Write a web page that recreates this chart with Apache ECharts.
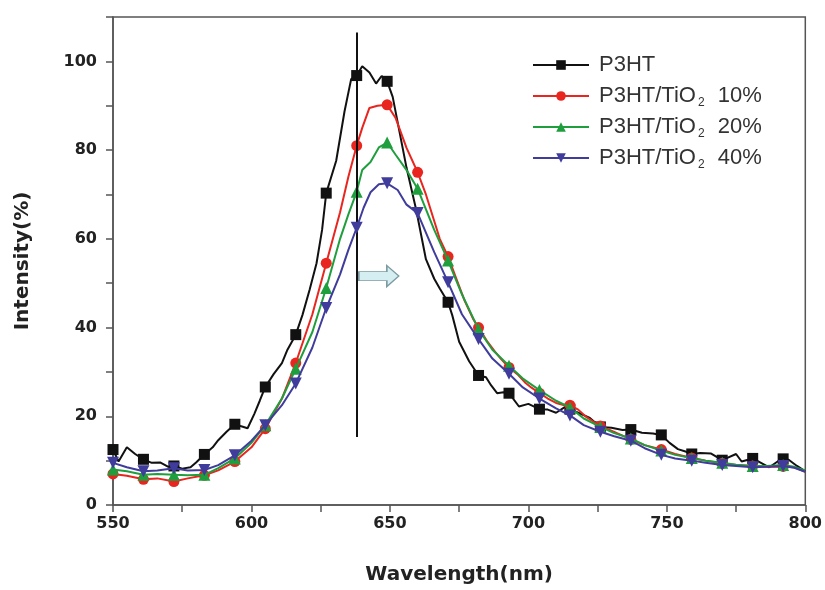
<!DOCTYPE html>
<html>
<head>
<meta charset="utf-8">
<script src="https://cdn.jsdelivr.net/npm/echarts@6/dist/echarts.min.js"></script>
<style>
html,body{margin:0;padding:0;background:#fff;}
#chart{width:825px;height:590px;}
</style>
</head>
<body>
<div id="chart"></div>
<script>
// Wavelengths (nm) where markers are drawn
const markerWl = [550,561,572,583,594,605,616,627,638,649,660,671,682,693,704,715,726,737,748,759,770,781,792];

// Series names
const seriesNames = ['P3HT', 'P3HT/TiO2 10%', 'P3HT/TiO2 20%', 'P3HT/TiO2 40%'];

// P3HT (black) [wavelength, intensity]
const p3ht = [
  [550,12.5],[552,9.8],[555,13],[558,11.5],[561,10.3],[564,9.5],[567,9.6],[570,8.6],[572,8.8],[575,8.2],[578,8.5],[580,9.6],
  [583,11.4],[586,13],[588,14.6],[591,16.5],[594,18.2],[596,17.8],[598.6,17.3],[601,20.5],[603,23.5],[605,26.6],[608,29.5],
  [611,32],[613,35],[616,38.4],[618.4,42.8],[621,48.5],[623.5,54.5],[625.5,62],[627,70.3],[630.6,77.6],[633.6,88.7],[636,96],
  [638,96.8],[640,98.9],[642.6,97.5],[645,95],[647,96.7],[649,95.5],[651,92],[653.5,84],[656,76],[659.5,66.5],[663,55.4],
  [666,51],[668,48.8],[671,45.7],[672.5,42.8],[675,36.8],[678.6,32.4],[682,29.2],[684.7,28.8],[686.5,27],[688.7,25.2],
  [691,25.4],[693,25.2],[696.6,22.2],[700,22.8],[704,21.6],[707,21.5],[710,20.8],[713,22],[715,21.6],[718,20.8],[722,19.7],
  [726,17.6],[730,17.4],[734,16.9],[737,17],[741,16.3],[745,16.1],[748,15.8],[751,14],[754,12.6],[757,12],[759,11.5],
  [762,11.7],[766,11.6],[770,10.1],[775,11.5],[777,9.8],[781,10.5],[784,9.5],[787,8.5],[790,9.8],[792,10.4],[794,10.2],
  [797,8.8],[800,7.6]
];

// P3HT/TiO2 10% (red)
const tio10 = [
  [550,7],[555,6.6],[561,5.8],[566,6],[572,5.3],[577,6],[583,6.7],[588,7.8],[594,9.8],[600,13],[605,17.2],[611,24],
  [616,32],[622,43],[627,54.5],[632,66],[635,74],[638,81],[640,85],[642.6,89.5],[645.5,90],[649,90.2],[652,87.3],
  [656,80.5],[660,75],[663,70],[666,64],[668,60],[671,56],[674,51],[677,46],[680,42],[682,40],[685,37],[688,34.5],
  [690,33],[693,31],[696,29.5],[699,27.5],[701,26.5],[704,25.2],[707,24],[710,23],[713,22.5],[715,22.5],[718,21.5],
  [721,19.8],[724,18.6],[726,17.8],[731,16.5],[737,14.8],[742,13.5],[748,12.5],[753,11.5],[759,10.6],[764,10],
  [770,9.4],[775,9],[781,8.8],[786,8.6],[792,8.7],[796,8.5],[800,7.5]
];

// P3HT/TiO2 20% (green)
const tio20 = [
  [550,8],[555,7.6],[561,6.8],[566,7],[572,6.8],[577,6.7],[583,6.8],[588,8.3],[594,10.5],[600,14],[605,18],[611,24],
  [616,30.7],[622,39],[627,48.9],[632,60],[635,65.5],[638,70.6],[640,75.5],[643,77.3],[646,80.6],[649,81.7],[652,79],
  [656,75.5],[660,71.3],[666,62],[671,55.1],[676,47.5],[682,39.6],[687,35],[693,31.4],[698,28.5],[704,25.9],[710,23.5],
  [715,22],[720,19.5],[726,17.6],[731,16.2],[737,15],[742,13.5],[748,12.3],[753,11.3],[759,10.6],[764,10],[770,9.5],
  [775,9.1],[781,8.8],[786,8.8],[792,9],[796,8.6],[800,7.8]
];

// P3HT/TiO2 40% (blue)
const tio40 = [
  [550,9.5],[555,8.5],[561,7.6],[566,7.8],[572,8.3],[577,7.8],[583,7.9],[588,9],[594,11.2],[600,14.5],[605,18],[611,22.5],
  [616,27.4],[622,35.5],[627,44.4],[632,52],[635,57.5],[638,62.5],[640.5,67],[643,70.5],[646,72.3],[649,72.5],[652.8,71],
  [656,67.7],[660,65.8],[666,57],[671,50.2],[676,43],[682,37.4],[687,33],[693,29.6],[698,26.5],[704,24],[710,21.8],
  [715,20.2],[720,18],[726,16.5],[731,15.5],[737,14.5],[742,12.8],[748,11.3],[753,10.5],[759,10],[764,9.5],[770,9],
  [775,8.8],[781,8.5],[786,8.6],[792,8.8],[796,8.4],[800,7.5]
];

// Vertical reference line: wavelength and intensity span
const refLineWl = 638;
const refLineSpan = [15.3, 106.5];
// Arrow annotation centre [wavelength, intensity]
const arrowAt = [646, 51.6];

// Axis ranges
const xRange = [550, 800];
const yRange = [0, 110];

const colors = ['#111111', '#e8261f', '#1f9e3e', '#3f3c9c'];
const symbols = ['rect', 'circle', 'triangle', 'path://M0,0 L10,0 L5,10 Z'];
const symbolSizes = [11, 11, 12, 12];
const datasets = [p3ht, tio10, tio20, tio40];

const markerSet = new Set(markerWl);
function buildData(arr) {
  return arr.map(function (p) {
    if (markerSet.has(p[0])) return p;
    return { value: p, symbol: 'none' };
  });
}

const series = datasets.map(function (arr, i) {
  const s = {
    name: seriesNames[i],
    type: 'line',
    data: buildData(arr),
    symbol: symbols[i],
    symbolSize: symbolSizes[i],
    showSymbol: true,
    showAllSymbol: true,
    lineStyle: { color: colors[i], width: 2 },
    itemStyle: { color: colors[i] },
    z: 2 + i,
    animation: false
  };
  if (i === 0) {
    s.markLine = {
      silent: true,
      symbol: 'none',
      label: { show: false },
      lineStyle: { color: '#111', width: 2, type: 'solid' },
      data: [[{ coord: [refLineWl, refLineSpan[0]] }, { coord: [refLineWl, refLineSpan[1]] }]],
      animation: false
    };
    s.markPoint = {
      silent: true,
      label: { show: false },
      data: [{
        coord: arrowAt,
        symbol: 'path://M0,6 L28,6 L28,0 L40,10.5 L28,21 L28,15 L0,15 Z',
        symbolSize: [40, 21],
        itemStyle: { color: '#d4eef2', borderColor: '#7c9ba0', borderWidth: 1.2 }
      }],
      animation: false
    };
  }
  return s;
});

const chart = echarts.init(document.getElementById('chart'), null, { renderer: 'canvas' });
chart.setOption({
  backgroundColor: '#ffffff',
  animation: false,
  grid: {
    left: 113, right: 18, top: 17, bottom: 77,
    show: true, borderColor: '#555', borderWidth: 1.5, backgroundColor: 'transparent'
  },
  legend: {
    orient: 'vertical',
    left: 527, top: 47,
    itemWidth: 56, itemHeight: 12,
    itemGap: 5,
    data: seriesNames,
    formatter: function (n) { return n.replace('TiO2', 'TiO{sub|2}'); },
    textStyle: {
      fontFamily: 'Liberation Sans, Arial, sans-serif',
      fontSize: 22, color: '#333', lineHeight: 26,
      padding: [0, 0, 0, 5],
      rich: {
        sub: { fontSize: 12, color: '#333', verticalAlign: 'bottom', lineHeight: 14, padding: [0, 7, 0, 2], fontFamily: 'Liberation Sans, Arial, sans-serif' }
      }
    }
  },
  xAxis: {
    type: 'value',
    min: xRange[0], max: xRange[1], interval: 25,
    name: 'Wavelength(nm)',
    nameLocation: 'middle', nameGap: 60,
    nameTextStyle: { fontFamily: 'DejaVu Sans', fontWeight: 'bold', fontSize: 20, color: '#222' },
    axisLine: { show: true, lineStyle: { color: '#555', width: 1.5 } },
    axisTick: { show: true, inside: false, length: 7, lineStyle: { color: '#555', width: 1.5 } },
    axisLabel: {
      margin: 11,
      fontFamily: 'DejaVu Sans', fontWeight: 'bold', fontSize: 16, color: '#222',
      formatter: function (v) { return v % 50 === 0 ? String(v) : ''; }
    },
    splitLine: { show: false }
  },
  yAxis: {
    type: 'value',
    min: yRange[0], max: yRange[1], interval: 10,
    name: 'Intensity(%)',
    nameLocation: 'middle', nameGap: 80,
    nameTextStyle: { fontFamily: 'DejaVu Sans', fontWeight: 'bold', fontSize: 20, color: '#222' },
    axisLine: { show: true, lineStyle: { color: '#555', width: 1.5 } },
    axisTick: { show: true, inside: false, length: 7, lineStyle: { color: '#555', width: 1.5 } },
    axisLabel: {
      margin: 16,
      fontFamily: 'DejaVu Sans', fontWeight: 'bold', fontSize: 16, color: '#222',
      formatter: function (v) { return (v % 20 === 0 && v <= 100) ? String(v) : ''; }
    },
    splitLine: { show: false }
  },
  series: series
});
</script>
</body>
</html>
